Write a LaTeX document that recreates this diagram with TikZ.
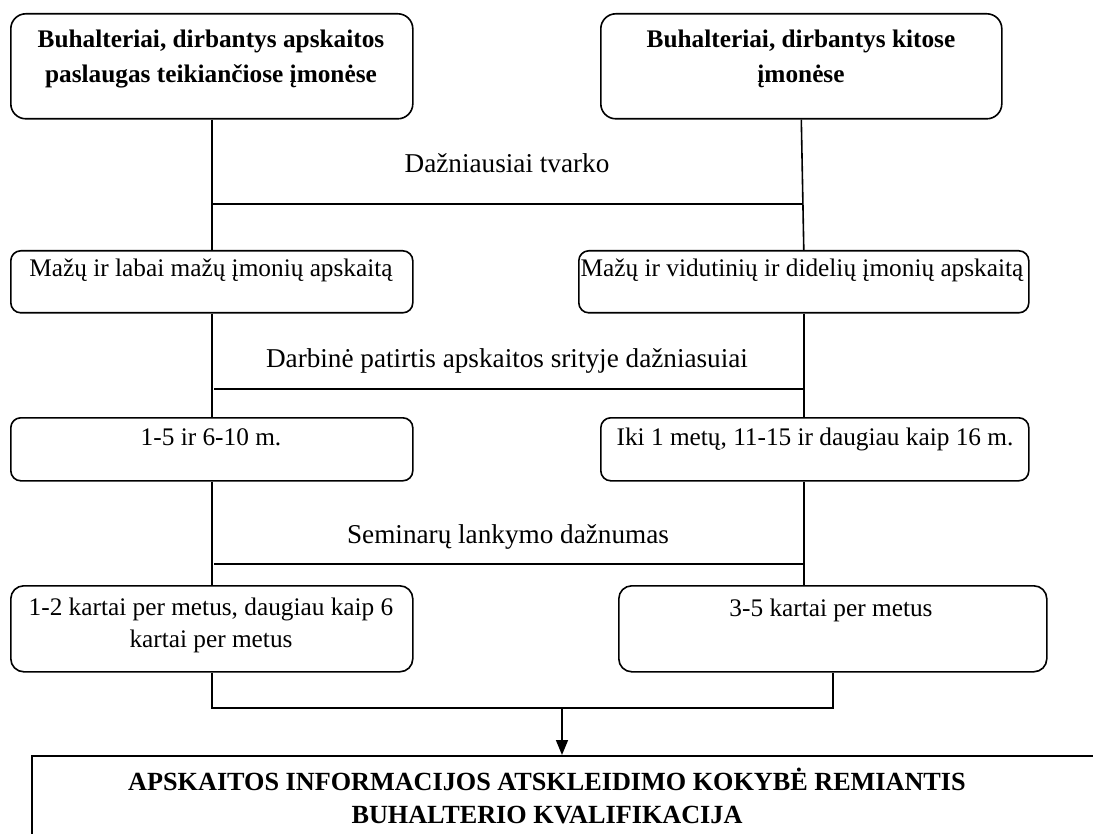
\documentclass[tikz,border=0pt]{standalone}
\usepackage{fontspec}
\setmainfont{Liberation Serif}
\usetikzlibrary{arrows.meta}
\begin{document}
\begin{tikzpicture}[x=1pt,y=-1pt,
  boxr/.style={draw, line width=1.6pt, rounded corners=#1, anchor=north west, inner sep=0pt},
  boxr/.default=12pt,
  wire/.style={line width=1.6pt},
  txt/.style={anchor=base, inner sep=0pt, align=center, font=\fontsize{25.3}{35}\selectfont},
  btxt/.style={anchor=base, inner sep=0pt, align=center, font=\fontsize{25.3}{35}\selectfont\bfseries},
  ltxt/.style={anchor=base, inner sep=0pt, align=center, font=\fontsize{27.2}{35}\selectfont},
]
\useasboundingbox (0,0) rectangle (1093,834);
\clip (0,0) rectangle (1093,834);

% boxes
\node[boxr=15pt, minimum width=402pt, minimum height=105pt] (b1) at (10,13) {};
\node[boxr=15pt, minimum width=401pt, minimum height=105pt] (b2) at (600,13) {};
\node[boxr=10pt, minimum width=402pt, minimum height=62pt] (b3) at (10,250) {};
\node[boxr=10pt, minimum width=450pt, minimum height=62pt] (b4) at (578,250) {};
\node[boxr=10pt, minimum width=402pt, minimum height=63pt] (b5) at (10,417) {};
\node[boxr=10pt, minimum width=428pt, minimum height=63pt] (b6) at (600,417) {};
\node[boxr=13pt, minimum width=402pt, minimum height=86pt] (b7) at (10,585) {};
\node[boxr=13pt, minimum width=428pt, minimum height=86pt] (b8) at (618,585) {};
\node[boxr=0pt, minimum width=1100pt, minimum height=150pt] (b9) at (31,755) {};

% box texts (multi-line nodes sit on the baseline of their last line)
\node[btxt] (t1) at (211,83) {Buhalteriai, dirbantys apskaitos\\paslaugas teikiančiose įmonėse};
\node[btxt] (t2) at (801,83) {Buhalteriai, dirbantys kitose\\įmonėse};
\node[txt] (t3) at (211,277) {Mažų ir labai mažų įmonių apskaitą};
\node[txt] (t4) at (802,277) {Mažų ir vidutinių ir didelių įmonių apskaitą};
\node[txt] (t5) at (211,446) {1-5 ir 6-10 m.};
\node[txt] (t6) at (815,446) {Iki 1 metų, 11-15 ir daugiau kaip 16 m.};
\node[txt, font=\fontsize{25.3}{32}\selectfont] (t7) at (211,647) {1-2 kartai per metus, daugiau kaip 6\\kartai per metus};
\node[txt] (t8) at (831,616) {3-5 kartai per metus};
\node[btxt, font=\fontsize{26.2}{33}\selectfont\bfseries] (t9) at (547,823) {APSKAITOS INFORMACIJOS ATSKLEIDIMO KOKYBĖ REMIANTIS\\BUHALTERIO KVALIFIKACIJA};

% connector labels
\node[ltxt] (l1) at (507,173) {Dažniausiai tvarko};
\node[ltxt] (l2) at (507,368) {Darbinė patirtis apskaitos srityje dažniasuiai};
\node[ltxt] (l3) at (508,543) {Seminarų lankymo dažnumas};

% cross bars
\coordinate (h1l) at (212,204); \coordinate (h1r) at (802,204);
\coordinate (h2l) at (214,389); \coordinate (h2r) at (805,389);
\coordinate (h3l) at (214,564); \coordinate (h3r) at (805,564);
\coordinate (jn) at (562,708);

\draw[wire] (b1.south) -- (b3.north);
\draw[wire] (b2.south) -- (b4.north);
\draw[wire] (h1l) -- (h1r);

\draw[wire] (b3.south) -- (b5.north);
\draw[wire] (b4.south) -- (b4.south |- b6.north);
\draw[wire] (h2l) -- (h2r);

\draw[wire] (b5.south) -- (b7.north);
\draw[wire] (b4.south |- b6.south) -- (b4.south |- b8.north);
\draw[wire] (h3l) -- (h3r);

\draw[wire] (b7.south) |- (jn) -| (b8.south);
\draw[wire, -{Triangle[length=15pt,width=12pt]}] (jn) -- (jn |- b9.north);
\end{tikzpicture}
\end{document}
